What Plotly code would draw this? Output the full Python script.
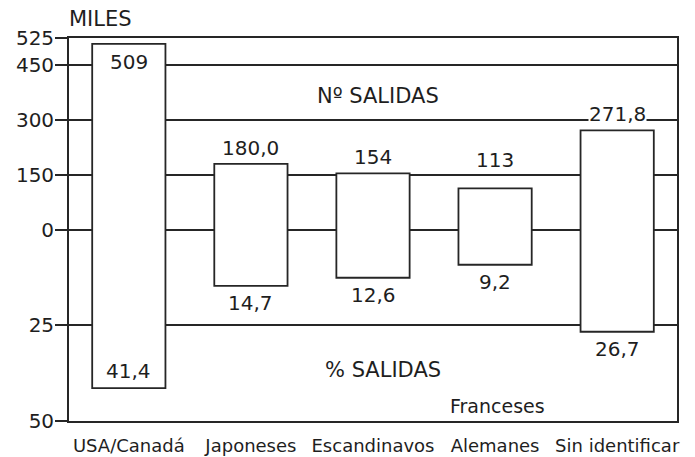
import plotly.graph_objects as go

categories = ["USA/Canadá", "Japoneses", "Escandinavos", "Alemanes", "Sin identificar"]
salidas_miles = [509, 180.0, 154, 113, 271.8]
salidas_dec = [0, 1, 0, 0, 1]
pct_salidas = [41.4, 14.7, 12.6, 9.2, 26.7]
pct_dec = [1, 1, 1, 1, 1]

top_ticks = [525, 450, 300, 150, 0]
bottom_ticks = [25, 50]

# label placement styling (pixels of extra lift for top labels)
top_label_lift = [0, 0, 0, 12, 0]

TOP_MAX = 525
BOT_MAX = 50
k = TOP_MAX / BOT_MAX  # scale factor for percentage half

def fmt(v, d):
    return f"{v:.{d}f}".replace(".", ",")

x = list(range(len(categories)))
base = [-p * k for p in pct_salidas]
height = [v + p * k for v, p in zip(salidas_miles, pct_salidas)]

LINE = "#262626"
TXT = "#1e1e1e"
FONT = "DejaVu Sans"

fig = go.Figure()
fig.add_trace(go.Bar(
    x=x, y=height, base=base, width=0.6,
    marker=dict(color="white", line=dict(color=LINE, width=1.8)),
    hoverinfo="skip", showlegend=False,
))

annotations = []
for i, (v, p) in enumerate(zip(salidas_miles, pct_salidas)):
    inside = v > 450
    annotations.append(dict(
        x=i, y=v, text=fmt(v, salidas_dec[i]), showarrow=False,
        yanchor="top" if inside else "bottom",
        yshift=-5 if inside else 3 + top_label_lift[i],
        font=dict(family=FONT, size=20, color=TXT),
        bgcolor=None if inside else "white", borderpad=0,
    ))
    inside_b = p > 35
    annotations.append(dict(
        x=i, y=-p * k, text=fmt(p, pct_dec[i]), showarrow=False,
        yanchor="bottom" if inside_b else "top", yshift=3 if inside_b else -3,
        font=dict(family=FONT, size=20, color=TXT),
    ))

annotations += [
    dict(x=2.04, y=366, text="Nº SALIDAS", showarrow=False,
         font=dict(family=FONT, size=21, color=TXT)),
    dict(x=2.08, y=-385, text="% SALIDAS", showarrow=False,
         font=dict(family=FONT, size=21, color=TXT)),
    dict(x=3.02, y=-484, text="Franceses", showarrow=False,
         font=dict(family=FONT, size=19, color=TXT)),
    dict(xref="paper", yref="paper", x=-0.003, y=1.012, xanchor="left", yanchor="bottom",
         text="MILES", showarrow=False,
         font=dict(family=FONT, size=21, color=TXT)),
]

tickvals = top_ticks + [-t * k for t in bottom_ticks]
ticktext = [str(t) for t in top_ticks] + [str(t) for t in bottom_ticks]

fig.update_layout(
    width=687, height=449,
    margin=dict(l=61, r=18, t=30, b=36),
    plot_bgcolor="white", paper_bgcolor="white",
    annotations=annotations,
    xaxis=dict(
        tickmode="array", tickvals=x, ticktext=categories,
        range=[-0.49, 4.49], showgrid=False, zeroline=False,
        showline=True, linecolor=LINE, linewidth=1.8, mirror=True,
        ticks="", ticklabelstandoff=7, automargin=False,
        tickfont=dict(family=FONT, size=18, color=TXT),
    ),
    yaxis=dict(
        tickmode="array", tickvals=tickvals, ticktext=ticktext,
        range=[-TOP_MAX, TOP_MAX], showgrid=True, gridcolor=LINE, gridwidth=1.6,
        zeroline=True, zerolinecolor=LINE, zerolinewidth=1.8,
        showline=True, linecolor=LINE, linewidth=1.8, mirror=True,
        ticks="outside", ticklen=12, tickcolor=LINE, tickwidth=1.6,
        ticklabelstandoff=-3, automargin=False,
        tickfont=dict(family=FONT, size=20, color=TXT),
    ),
)

fig.write_html("out.html")
